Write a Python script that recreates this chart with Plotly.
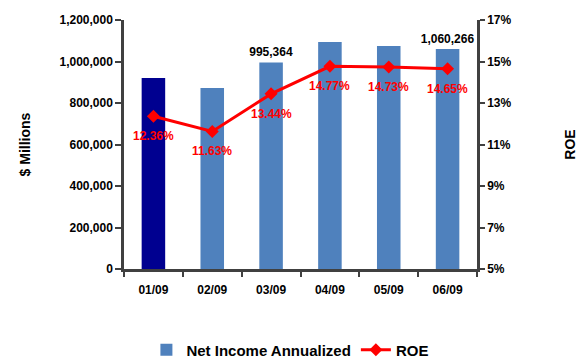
import plotly.graph_objects as go

categories = ["01/09", "02/09", "03/09", "04/09", "05/09", "06/09"]
net_income = [920000, 872000, 995364, 1094000, 1075000, 1060266]
roe = [12.36, 11.63, 13.44, 14.77, 14.73, 14.65]
bar_labels = ["", "", "995,364", "", "", "1,060,266"]
roe_labels = ["12.36%", "11.63%", "13.44%", "14.77%", "14.73%", "14.65%"]
bar_colors = ["#000090"] + ["#4F81BD"] * 5

FONT = "Liberation Sans, Arial, sans-serif"
AXIS = "#404040"

fig = go.Figure()
fig.add_trace(go.Bar(
    x=categories, y=net_income, marker=dict(color=bar_colors, line=dict(width=0)),
    text=bar_labels, textposition="outside", cliponaxis=False, constraintext="none",
    textfont=dict(family=FONT, size=12, color="black", weight="bold"),
    showlegend=False, name="Net Income Annualized",
))
# legend entry only (zero-height bar, overlaid)
fig.add_trace(go.Bar(
    x=categories[:1], y=[0], marker=dict(color="#4F81BD", line=dict(width=0)),
    name="Net Income Annualized", hoverinfo="skip",
))
fig.add_trace(go.Scatter(
    x=categories, y=roe, yaxis="y2", mode="lines+markers", name="ROE",
    line=dict(color="#FF0000", width=3),
    marker=dict(symbol="diamond", size=10, color="#FF0000"),
    cliponaxis=False,
))
for c, v, t in zip(categories, roe, roe_labels):
    fig.add_annotation(x=c, y=v, yref="y2", text=t, showarrow=False, yshift=-20,
                       font=dict(family=FONT, size=12, color="#FF0000", weight="bold"))

fig.update_layout(
    width=584, height=360,
    margin=dict(l=124, r=107, t=20, b=91, autoexpand=False),
    paper_bgcolor="white", plot_bgcolor="white",
    font=dict(family=FONT, size=12, color="black"),
    barmode="overlay", bargap=0.6,
    xaxis=dict(
        type="category", automargin=False,
        showline=True, linecolor=AXIS, linewidth=2.5,
        ticks="outside", tickson="boundaries", ticklen=5, tickwidth=2, tickcolor=AXIS,
        tickfont=dict(family=FONT, size=12, color="black", weight="bold"),
        ticklabelstandoff=8, tickangle=0,
    ),
    yaxis=dict(
        range=[0, 1200000], dtick=200000, tickformat=",d", automargin=False,
        showline=True, linecolor=AXIS, linewidth=2.5, showgrid=False, zeroline=False,
        ticks="outside", ticklen=6, tickwidth=2, tickcolor=AXIS,
        tickfont=dict(family=FONT, size=12, color="black", weight="bold"),
        title=dict(text="$ Millions", font=dict(family=FONT, size=14, color="black", weight="bold"), standoff=26),
    ),
    yaxis2=dict(
        range=[5, 17], tick0=5, dtick=2, ticksuffix="%", overlaying="y", side="right", automargin=False,
        showline=True, linecolor=AXIS, linewidth=2.5, showgrid=False, zeroline=False,
        ticks="outside", ticklen=5, tickwidth=2, tickcolor=AXIS,
        tickfont=dict(family=FONT, size=12, color="black", weight="bold"),
        title=dict(text="ROE", font=dict(family=FONT, size=14, color="black", weight="bold"), standoff=55),
    ),
    legend=dict(
        orientation="h", x=0.47, xanchor="center",
        y=-0.325, yanchor="middle",
        font=dict(family=FONT, size=15, color="black", weight="bold"),
    ),
)

fig.write_html("out.html")
